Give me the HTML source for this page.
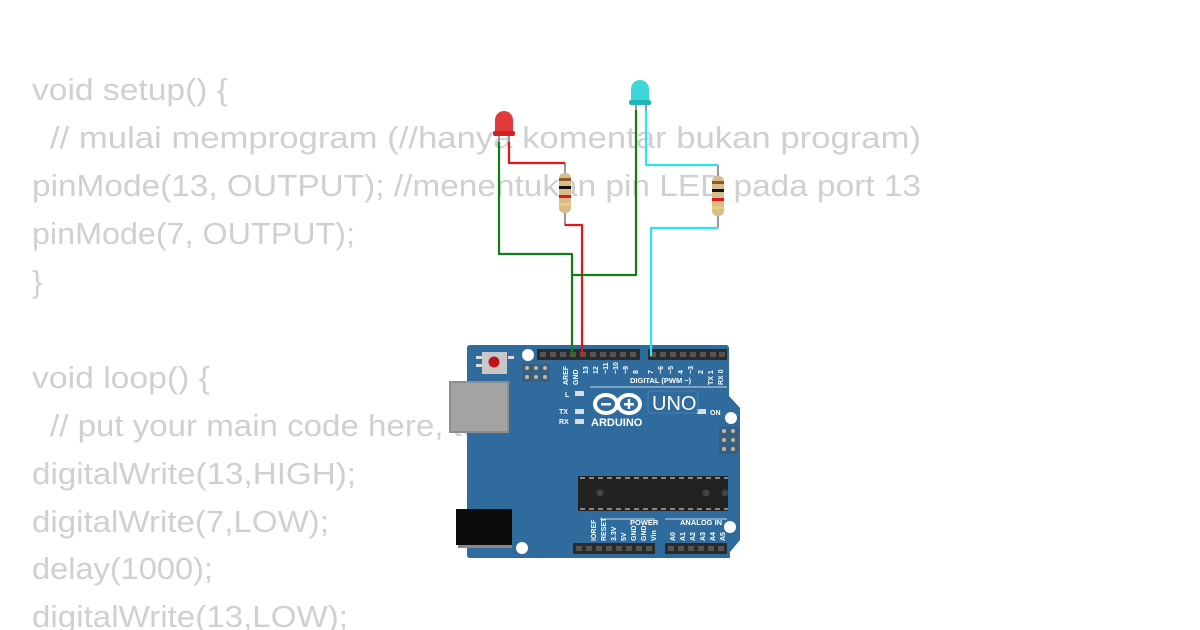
<!DOCTYPE html>
<html><head><meta charset="utf-8"><style>
html,body{margin:0;padding:0;background:#fff;}
svg{display:block}
.c{font-family:"Liberation Sans",sans-serif;font-size:31px;fill:#d0d0d0}
.w{font-family:"Liberation Sans",sans-serif;fill:#fff;font-weight:bold}
</style></head><body>
<svg width="1200" height="630" viewBox="0 0 1200 630" xmlns="http://www.w3.org/2000/svg">
<text class="c" x="32" y="100" textLength="196" lengthAdjust="spacingAndGlyphs">void setup() {</text>
<text class="c" x="50" y="148" textLength="871" lengthAdjust="spacingAndGlyphs">// mulai memprogram (//hanya komentar bukan program)</text>
<text class="c" x="32" y="196" textLength="889" lengthAdjust="spacingAndGlyphs">pinMode(13, OUTPUT); //menentukan pin LED pada port 13</text>
<text class="c" x="32" y="244" textLength="323" lengthAdjust="spacingAndGlyphs">pinMode(7, OUTPUT);</text>
<text class="c" x="32" y="292">}</text>
<text class="c" x="32" y="388" textLength="178" lengthAdjust="spacingAndGlyphs">void loop() {</text>
<text class="c" x="50" y="436" textLength="660" lengthAdjust="spacingAndGlyphs">// put your main code here, to run repeatedly:</text>
<text class="c" x="32" y="484" textLength="324" lengthAdjust="spacingAndGlyphs">digitalWrite(13,HIGH);</text>
<text class="c" x="32" y="532" textLength="297" lengthAdjust="spacingAndGlyphs">digitalWrite(7,LOW);</text>
<text class="c" x="32" y="579" textLength="181" lengthAdjust="spacingAndGlyphs">delay(1000);</text>
<text class="c" x="32" y="627" textLength="316" lengthAdjust="spacingAndGlyphs">digitalWrite(13,LOW);</text>

<path d="M470 345 H727 L729 347 V396 L740 408 V540 L730 552 V558 H470 Q467 558 467 555 V348 Q467 345 470 345 Z" fill="#2f6b9c"/>
<rect x="450" y="382" width="58" height="50" fill="#a3a3a3"/>
<rect x="450" y="382" width="58" height="50" fill="none" stroke="#8d8d8d" stroke-width="2"/>
<rect x="458" y="512" width="54" height="36" fill="#888"/>
<rect x="456" y="509" width="56" height="36" fill="#0c0c0c"/>
<rect x="476" y="356" width="6" height="3" fill="#ddd"/><rect x="476" y="364" width="6" height="3" fill="#ddd"/><rect x="508" y="356" width="6" height="3" fill="#ddd"/>
<rect x="482" y="352" width="25" height="22" fill="#c8c8c8"/>
<circle cx="494" cy="362" r="5.5" fill="#c0141c"/>
<circle cx="528" cy="355" r="6" fill="#fff"/><circle cx="731" cy="418" r="6" fill="#fff"/>
<circle cx="730" cy="527" r="6" fill="#fff"/><circle cx="522" cy="548" r="6" fill="#fff"/>
<g fill="#c7b79a"><rect x="522" y="364" width="28" height="18" fill="#385f80"/>
<circle cx="527" cy="368" r="2"/><circle cx="536" cy="368" r="2"/><circle cx="545" cy="368" r="2"/>
<circle cx="527" cy="377" r="2"/><circle cx="536" cy="377" r="2"/><circle cx="545" cy="377" r="2"/></g>
<g fill="#c7b79a"><rect x="719" y="427" width="20" height="27" fill="#385f80"/>
<circle cx="724" cy="431" r="2"/><circle cx="733" cy="431" r="2"/><circle cx="724" cy="440" r="2"/><circle cx="733" cy="440" r="2"/><circle cx="724" cy="449" r="2"/><circle cx="733" cy="449" r="2"/></g>
<rect x="537" y="349" width="103" height="11" fill="#2b2b2b"/>
<rect x="648" y="349" width="79" height="11" fill="#2b2b2b"/>
<rect x="573" y="543" width="82" height="11" fill="#2b2b2b"/>
<rect x="665" y="543" width="62" height="11" fill="#2b2b2b"/>
<g fill="#555">
<rect x="540" y="352" width="6" height="5"/><rect x="550" y="352" width="6" height="5"/><rect x="560" y="352" width="6" height="5"/><rect x="570" y="352" width="6" height="5"/><rect x="580" y="352" width="6" height="5"/><rect x="590" y="352" width="6" height="5"/><rect x="600" y="352" width="6" height="5"/><rect x="610" y="352" width="6" height="5"/><rect x="620" y="352" width="6" height="5"/><rect x="630" y="352" width="6" height="5"/>
<rect x="650" y="352" width="6" height="5"/><rect x="660" y="352" width="6" height="5"/><rect x="670" y="352" width="6" height="5"/><rect x="680" y="352" width="6" height="5"/><rect x="690" y="352" width="6" height="5"/><rect x="700" y="352" width="6" height="5"/><rect x="710" y="352" width="6" height="5"/><rect x="719" y="352" width="6" height="5"/>
<rect x="576" y="546" width="6" height="5"/><rect x="586" y="546" width="6" height="5"/><rect x="596" y="546" width="6" height="5"/><rect x="606" y="546" width="6" height="5"/><rect x="616" y="546" width="6" height="5"/><rect x="626" y="546" width="6" height="5"/><rect x="636" y="546" width="6" height="5"/><rect x="646" y="546" width="6" height="5"/>
<rect x="668" y="546" width="6" height="5"/><rect x="678" y="546" width="6" height="5"/><rect x="688" y="546" width="6" height="5"/><rect x="698" y="546" width="6" height="5"/><rect x="708" y="546" width="6" height="5"/><rect x="718" y="546" width="6" height="5"/>
</g>
<g class="w" font-size="7" font-weight="normal">
<text transform="translate(568,385) rotate(-90)">AREF</text>
<text transform="translate(578,385) rotate(-90)">GND</text>
<text transform="translate(588,374) rotate(-90)">13</text>
<text transform="translate(598,374) rotate(-90)">12</text>
<text transform="translate(608,374) rotate(-90)">~11</text>
<text transform="translate(618,374) rotate(-90)">~10</text>
<text transform="translate(628,374) rotate(-90)">~9</text>
<text transform="translate(638,374) rotate(-90)">8</text>
<text transform="translate(653,374) rotate(-90)">7</text>
<text transform="translate(663,374) rotate(-90)">~6</text>
<text transform="translate(673,374) rotate(-90)">~5</text>
<text transform="translate(683,374) rotate(-90)">4</text>
<text transform="translate(693,374) rotate(-90)">~3</text>
<text transform="translate(703,374) rotate(-90)">2</text>
<text transform="translate(713,385) rotate(-90)">TX 1</text>
<text transform="translate(723,385) rotate(-90)">RX 0</text>
</g>
<text class="w" x="630" y="383" font-size="7.5">DIGITAL (PWM ~)</text>
<line x1="590" y1="387" x2="727" y2="387" stroke="#fff" stroke-width="0.8"/>
<text class="w" x="565" y="397" font-size="7" font-weight="normal">L</text>
<text class="w" x="559" y="414" font-size="7" font-weight="normal">TX</text>
<text class="w" x="559" y="424" font-size="7" font-weight="normal">RX</text>
<rect x="575" y="391" width="9" height="5" fill="#ddd"/><rect x="575" y="409" width="9" height="5" fill="#ddd"/><rect x="575" y="419" width="9" height="5" fill="#ddd"/>
<rect x="697" y="409" width="9" height="5" fill="#ddd"/>
<text class="w" x="710" y="415" font-size="7" font-weight="normal">ON</text>
<g fill="none" stroke="#fff" stroke-width="4"><ellipse cx="606" cy="404" rx="11" ry="9"/><ellipse cx="629" cy="404" rx="11" ry="9"/></g>
<rect x="601" y="403" width="10" height="2.5" fill="#fff"/>
<rect x="624" y="403" width="10" height="2.5" fill="#fff"/><rect x="627.7" y="399" width="2.5" height="10" fill="#fff"/>
<text class="w" x="591" y="426" font-size="11">ARDUINO</text>
<rect x="648" y="391" width="50" height="22" rx="3" fill="none" stroke="#4a82b0" stroke-width="1"/>
<text x="652" y="410" font-family="Liberation Sans,sans-serif" font-size="20" fill="#fff">UNO</text>
<rect x="578" y="476" width="150" height="35" fill="#222"/>
<g stroke="#aaa" stroke-width="1.5" stroke-dasharray="5,4"><line x1="580" y1="478" x2="728" y2="478"/><line x1="580" y1="509" x2="728" y2="509"/></g>
<circle cx="600" cy="493" r="3.5" fill="#444"/><circle cx="706" cy="493" r="3.5" fill="#444"/><circle cx="725" cy="493" r="3.5" fill="#444"/>
<line x1="600" y1="519" x2="655" y2="519" stroke="#fff" stroke-width="0.8"/>
<line x1="665" y1="519" x2="727" y2="519" stroke="#fff" stroke-width="0.8"/>
<text class="w" x="630" y="525" font-size="7.5">POWER</text>
<text class="w" x="680" y="525" font-size="7.5">ANALOG IN</text>
<g class="w" font-size="7">
<text transform="translate(596,541) rotate(-90)">IOREF</text>
<text transform="translate(606,541) rotate(-90)">RESET</text>
<text transform="translate(616,541) rotate(-90)">3.3V</text>
<text transform="translate(626,541) rotate(-90)">5V</text>
<text transform="translate(636,541) rotate(-90)">GND</text>
<text transform="translate(646,541) rotate(-90)">GND</text>
<text transform="translate(656,541) rotate(-90)">Vin</text>
<text transform="translate(675,541) rotate(-90)">A0</text>
<text transform="translate(685,541) rotate(-90)">A1</text>
<text transform="translate(695,541) rotate(-90)">A2</text>
<text transform="translate(705,541) rotate(-90)">A3</text>
<text transform="translate(715,541) rotate(-90)">A4</text>
<text transform="translate(725,541) rotate(-90)">A5</text>
</g>

<g stroke="#999" stroke-width="2"><line x1="565" y1="163" x2="565" y2="226"/><line x1="718" y1="165" x2="718" y2="228"/>
<line x1="499" y1="135" x2="499" y2="144"/><line x1="509" y1="135" x2="509" y2="144"/>
<line x1="636" y1="104" x2="636" y2="112"/><line x1="646" y1="104" x2="646" y2="112"/></g>
<g fill="none" stroke-width="2.2" stroke-linejoin="round">
<path d="M499 142 V254 H572 V356" stroke="#0f7d18"/>
<path d="M509 142 V163 H565 M565 225 H582 V356" stroke="#e8141a"/>
<path d="M636 110 V275 H573" stroke="#0f7d18"/>
<path d="M646 110 V165 H718 M718 228 H651 V356" stroke="#28e6ee"/>
</g>
<g>
<rect x="559" y="173" width="12" height="40" rx="5" fill="#d9bc8c"/>
<rect x="559" y="178" width="12" height="3" fill="#8a5a2a"/><rect x="559" y="186" width="12" height="3" fill="#111"/><rect x="559" y="195" width="12" height="3" fill="#e01818"/><rect x="559" y="203" width="12" height="3" fill="#e6d07a"/>
<rect x="712" y="176" width="12" height="40" rx="5" fill="#d9bc8c"/>
<rect x="712" y="181" width="12" height="3" fill="#8a5a2a"/><rect x="712" y="189" width="12" height="3" fill="#111"/><rect x="712" y="198" width="12" height="3" fill="#e01818"/><rect x="712" y="206" width="12" height="3" fill="#e6d07a"/>
</g>
<path d="M495 136 V120 A9 9 0 0 1 513 120 V136 Z" fill="#e23a3a"/>
<rect x="493" y="131" width="22" height="5" rx="2" fill="#c22"/>
<path d="M631 105 V89 A9 9 0 0 1 649 89 V105 Z" fill="#3ed6d6"/>
<rect x="629" y="100" width="22" height="5" rx="2" fill="#22b5b5"/>
</svg>
</body></html>
